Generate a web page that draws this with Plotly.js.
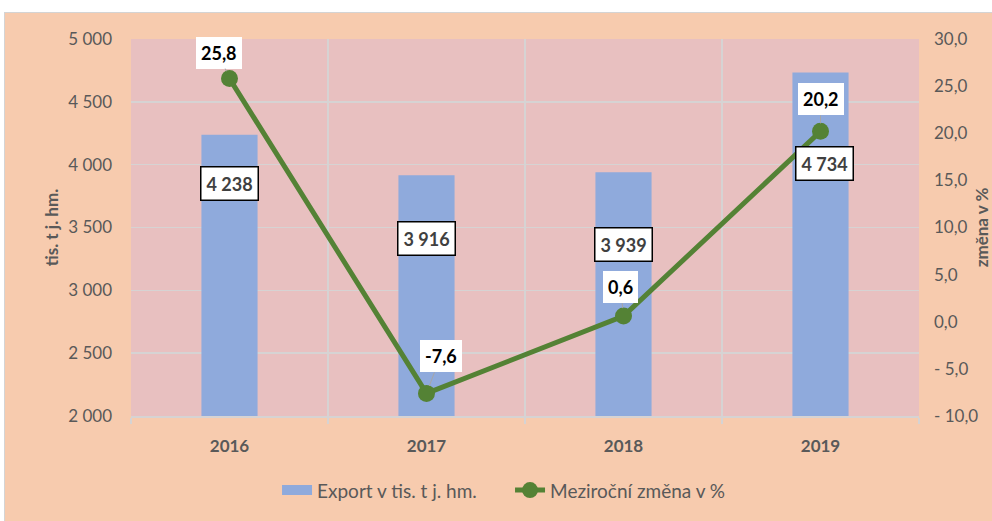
<!DOCTYPE html>
<html>
<head>
<meta charset="utf-8">
<script src="https://cdn.plot.ly/plotly-3.0.1.min.js"></script>
<style>
  html, body { margin: 0; padding: 0; background: #ffffff; }
  #wrap { position: relative; width: 992px; height: 521px; overflow: hidden; background: #ffffff; }
  #frame { position: absolute; left: 4px; top: 12px; width: 1000px; height: 520px; background: #F7CBAE; border: 1px solid #D4D4D4; box-sizing: border-box; }
  #chart { position: absolute; left: 0; top: 0; width: 992px; height: 521px; }
</style>
</head>
<body>
<div id="wrap">
  <div id="frame"></div>
  <div id="chart"></div>
</div>
<script>
// ---- data ----
const years = ["2016", "2017", "2018", "2019"];
const exportValues = [4238, 3916, 3939, 4734];
const changeValues = [25.8, -7.6, 0.6, 20.2];
const exportLabels = ["4 238", "3 916", "3 939", "4 734"];
const changeLabels = ["25,8", "-7,6", "0,6", "20,2"];
const seriesNames = ["Export v tis. t j. hm.", "Meziroční změna v %"];
const leftTickVals = [2000, 2500, 3000, 3500, 4000, 4500, 5000];
const leftTickText = ["2 000", "2 500", "3 000", "3 500", "4 000", "4 500", "5 000"];
const rightTickVals = [-10, -5, 0, 5, 10, 15, 20, 25, 30];
const rightTickText = ["- 10,0", "- 5,0", "0,0", "5,0", "10,0", "15,0", "20,0", "25,0", "30,0"];

// ---- label placement (pixel offsets, styling only) ----
const barLabelShift = [[0, -49], [0, -63], [0, -72], [4, -91]];
const lineLabelShift = [[-11, -26], [14, -37], [-3, -29], [0, -32]];

const gray = "#595959";
const font = "Lato, 'Open Sans', sans-serif";
const barColor = "#8FAADC";
const lineColor = "#548235";

const traces = [
  {
    type: "bar",
    name: seriesNames[0],
    x: years,
    y: exportValues,
    marker: { color: barColor },
    width: 0.285,
    yaxis: "y",
    showlegend: false,
    legendgroup: "exp",
    hoverinfo: "skip"
  },
  {
    // legend swatch for the bar series (wide flat rectangle, as in the original)
    type: "scatter",
    mode: "lines",
    name: seriesNames[0],
    legendgroup: "exp",
    x: [null],
    y: [null],
    line: { color: barColor, width: 12 },
    hoverinfo: "skip"
  },
  {
    type: "scatter",
    mode: "lines+markers",
    name: seriesNames[1],
    x: years,
    y: changeValues,
    yaxis: "y2",
    line: { color: lineColor, width: 5 },
    marker: { color: lineColor, size: 17 },
    hoverinfo: "skip"
  }
];

const annotations = [];
years.forEach((yr, i) => {
  annotations.push({
    x: i, y: exportValues[i], xref: "x", yref: "y",
    text: exportLabels[i], showarrow: false,
    xshift: barLabelShift[i][0], yshift: barLabelShift[i][1],
    font: { family: font, size: 18, color: "#404040", weight: "bold" },
    bgcolor: "#ffffff", bordercolor: "#000000", borderwidth: 1.5, borderpad: 5
  });
  annotations.push({
    x: i, y: changeValues[i], xref: "x", yref: "y2",
    text: changeLabels[i], showarrow: true,
    arrowhead: 0, arrowwidth: 1, arrowcolor: "#A6A6A6", standoff: 8,
    ax: lineLabelShift[i][0], ay: lineLabelShift[i][1],
    font: { family: font, size: 18, color: "#000000", weight: "bold" },
    bgcolor: "#ffffff", borderwidth: 0, borderpad: 5
  });
});

const layout = {
  width: 992,
  height: 521,
  margin: { l: 131, r: 73, t: 39, b: 102 },
  paper_bgcolor: "rgba(0,0,0,0)",
  plot_bgcolor: "#E8C0C0",
  font: { family: font, color: gray, size: 17 },
  showlegend: true,
  legend: {
    orientation: "h", x: 0.481, xanchor: "center", y: -0.197, yanchor: "middle",
    entrywidth: 188, entrywidthmode: "pixels",
    font: { family: font, size: 19, color: gray }, bgcolor: "rgba(0,0,0,0)"
  },
  xaxis: {
    type: "category",
    range: [-0.5, 3.5],
    autorange: false,
    tickson: "boundaries",
    showgrid: true, gridcolor: "#D6D3D3", gridwidth: 1.5,
    ticks: "outside", ticklen: 6, tickcolor: "#D6D3D3", tickwidth: 1.5,
    showline: true, linecolor: "#D6D3D3", linewidth: 1.5,
    tickfont: { family: font, size: 17, color: gray, weight: "bold" },
    tickangle: 0,
    ticklabelstandoff: 14,
    fixedrange: true
  },
  yaxis: {
    range: [2000, 5000],
    autorange: false,
    tickvals: leftTickVals, ticktext: leftTickText,
    showgrid: true, gridcolor: "#D6D3D3", gridwidth: 1.5,
    zeroline: false, showline: false, ticks: "",
    tickfont: { family: font, size: 17, color: gray },
    ticklabelstandoff: 18,
    title: { text: "tis. t j. hm.", font: { family: font, size: 17, color: gray, weight: "bold" }, standoff: 5 },
    fixedrange: true
  },
  yaxis2: {
    range: [-10, 30],
    autorange: false,
    overlaying: "y", side: "right",
    tickvals: rightTickVals, ticktext: rightTickText,
    showgrid: false, zeroline: false, showline: false, ticks: "",
    tickfont: { family: font, size: 17, color: gray },
    ticklabelstandoff: 14,
    title: { text: "změna v %", font: { family: font, size: 17, color: gray, weight: "bold" }, standoff: 6 },
    fixedrange: true
  },
  annotations: annotations
};

Plotly.newPlot("chart", traces, layout, { displayModeBar: false, staticPlot: true });
</script>
</body>
</html>
